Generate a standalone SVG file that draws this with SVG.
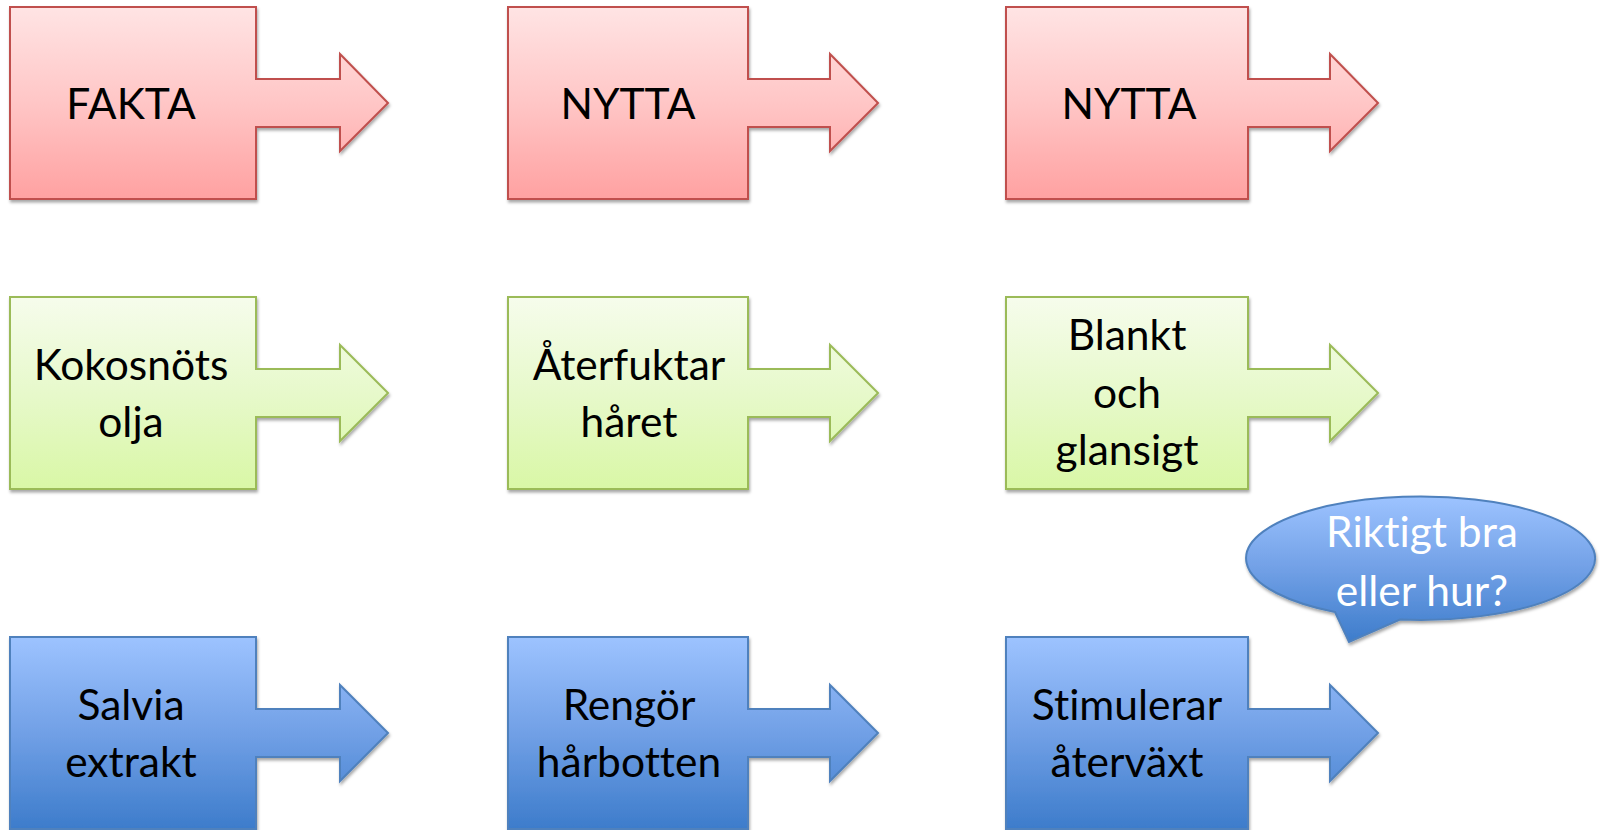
<svg xmlns="http://www.w3.org/2000/svg" width="1603" height="830" viewBox="0 0 1603 830">
<defs>
<linearGradient id="gRed" x1="0" y1="0" x2="0" y2="1">
<stop offset="0" stop-color="#FFE4E4"/><stop offset="0.5" stop-color="#FFC6C6"/><stop offset="1" stop-color="#FFA1A1"/>
</linearGradient>
<linearGradient id="gGreen" x1="0" y1="0" x2="0" y2="1">
<stop offset="0" stop-color="#F6FCEC"/><stop offset="0.5" stop-color="#E7F9CB"/><stop offset="1" stop-color="#D9F7A6"/>
</linearGradient>
<linearGradient id="gBlue" x1="0" y1="0" x2="0" y2="1">
<stop offset="0" stop-color="#9DC3FF"/><stop offset="0.5" stop-color="#71A0E6"/><stop offset="1" stop-color="#3D7CCB"/>
</linearGradient>
<filter id="sh" x="-5%" y="-5%" width="115%" height="120%">
<feDropShadow dx="1" dy="2.5" stdDeviation="1.8" flood-color="#000" flood-opacity="0.35"/>
</filter>
</defs>
<style>
.red{fill:url(#gRed);stroke:#C0504D;stroke-width:2;filter:url(#sh)}
.green{fill:url(#gGreen);stroke:#9BBB59;stroke-width:2;filter:url(#sh)}
.blue{fill:url(#gBlue);stroke:#4F81BD;stroke-width:2;filter:url(#sh)}
.t{font-family:Lato,"Liberation Sans",sans-serif;font-size:42.5px;fill:#000;text-anchor:middle;font-variant-ligatures:none}
.w{fill:#fff}
</style>
<g id="connectors"></g>
<g id="n-fakta">
<path class="red" d="M10,7 H256 V79 H340 V54 L388,103 L340,151 V127 H256 V199 H10 Z"/>
<text class="t" x="131" y="119">FAKTA</text>
</g>
<g id="n-nytta1">
<path class="red" d="M508,7 H748 V79 H830 V54 L878,103 L830,151 V127 H748 V199 H508 Z"/>
<text class="t" x="628" y="119">NYTTA</text>
</g>
<g id="n-nytta2">
<path class="red" d="M1006,7 H1248 V79 H1330 V54 L1378,103 L1330,151 V127 H1248 V199 H1006 Z"/>
<text class="t" x="1129" y="119">NYTTA</text>
</g>
<g id="n-kokos">
<path class="green" d="M10,297 H256 V369 H340 V345 L388,393 L340,441 V417 H256 V489 H10 Z"/>
<text class="t" x="131" y="380">Kokosnöts</text>
<text class="t" x="131" y="437">olja</text>
</g>
<g id="n-aterfuktar">
<path class="green" d="M508,297 H748 V369 H830 V345 L878,393 L830,441 V417 H748 V489 H508 Z"/>
<text class="t" x="629" y="380">Återfuktar</text>
<text class="t" x="629" y="437">håret</text>
</g>
<g id="n-blankt">
<path class="green" d="M1006,297 H1248 V369 H1330 V345 L1378,393 L1330,441 V417 H1248 V489 H1006 Z"/>
<text class="t" x="1127" y="350">Blankt</text>
<text class="t" x="1127" y="408">och</text>
<text class="t" x="1127" y="465">glansigt</text>
</g>
<g id="n-salvia">
<path class="blue" d="M10,637 H256 V709 H340 V685 L388,733 L340,781 V757 H256 V829 H10 Z"/>
<text class="t" x="131" y="720">Salvia</text>
<text class="t" x="131" y="777">extrakt</text>
</g>
<g id="n-rengor">
<path class="blue" d="M508,637 H748 V709 H830 V685 L878,733 L830,781 V757 H748 V829 H508 Z"/>
<text class="t" x="629" y="720">Rengör</text>
<text class="t" x="629" y="777">hårbotten</text>
</g>
<g id="n-stimulerar">
<path class="blue" d="M1006,637 H1248 V709 H1330 V685 L1378,733 L1330,781 V757 H1248 V829 H1006 Z"/>
<text class="t" x="1127" y="720">Stimulerar</text>
<text class="t" x="1127" y="777">återväxt</text>
</g>
<g id="n-callout">
<path class="blue" d="M1335,612 A174.5,61.7 0 1 1 1400,619.5 L1349,642 Z"/>
<text class="t w" x="1422" y="547">Riktigt bra</text>
<text class="t w" x="1422" y="606">eller hur?</text>
</g>
</svg>
